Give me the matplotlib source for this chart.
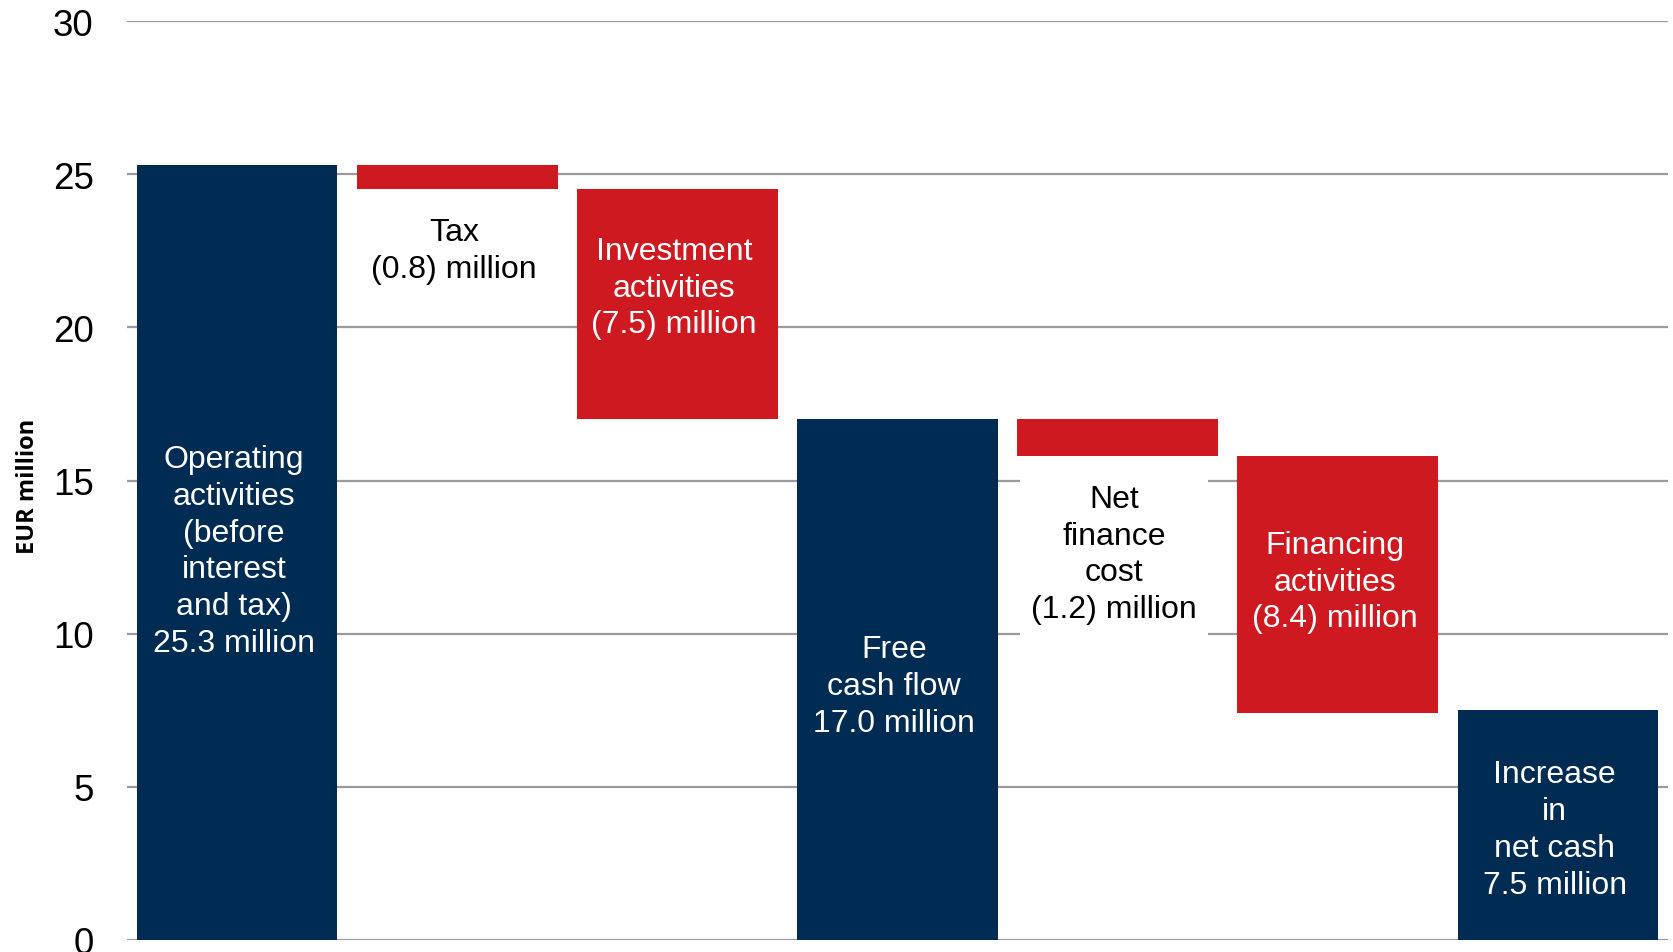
import matplotlib
matplotlib.use("Agg")
import matplotlib.pyplot as plt

# Cash flow bridge, EUR million
steps = ["Operating", "Tax", "Investment", "Free cash flow",
         "Net finance cost", "Financing", "Increase in net cash"]
amounts = [25.3, -0.8, -7.5, 17.0, -1.2, -8.4, 7.5]
is_total = [True, False, False, True, False, False, True]
labels = [
    "Operating\nactivities\n(before\ninterest\nand tax)\n25.3 million",
    "Tax\n(0.8) million",
    "Investment\nactivities\n(7.5) million",
    "Free\ncash flow\n17.0 million",
    "Net\nfinance\ncost\n(1.2) million",
    "Financing\nactivities\n(8.4) million",
    "Increase\nin\nnet cash\n7.5 million",
]
y_ticks = [0, 5, 10, 15, 20, 25, 30]

NAVY = "#002b52"
RED = "#ce1920"
GRID = "#9a9a9a"

plt.rcParams["font.family"] = ["Liberation Sans", "DejaVu Sans"]

fig = plt.figure(figsize=(16.73, 9.53), dpi=100)
ax = fig.add_axes([0.0759, 0.0126, 0.9211, 0.9643])

# work out the bottom of every bar from the running level
level = 0.0
bottoms, heights, colors = [], [], []
for amt, total in zip(amounts, is_total):
    if total:
        bottoms.append(0)
        heights.append(amt)
        colors.append(NAVY)
        level = amt
    else:
        bottoms.append(level + amt)
        heights.append(-amt)
        colors.append(RED)
        level = level + amt

x = list(range(len(steps)))
ax.bar(x, heights, bottom=bottoms, width=0.912, color=colors, zorder=2)

# label placement (y in data units)
label_y = [12.7, 22.5, 21.3, 8.3, 12.6, 11.7, 3.6]
for i, txt in enumerate(labels):
    inside = is_total[i] or heights[i] > 3
    kw = {}
    if i == 4:
        kw["bbox"] = dict(boxstyle="square,pad=0.35", fc="white", ec="none")
    ax.text(x[i] - 0.015, label_y[i], txt, ha="center", va="center",
            color="white" if inside else "black", fontsize=23,
            linespacing=1.3, zorder=3, **kw)

ax.set_xlim(-0.5, 6.5)
ax.set_ylim(0, 30)
ax.set_yticks(y_ticks)
ax.set_xticks([])
ax.tick_params(axis="y", length=0, pad=24, labelsize=26.5)
for s in ax.spines.values():
    s.set_visible(False)
ax.yaxis.grid(True, color=GRID, linewidth=1.6, zorder=0)
ax.set_axisbelow(True)

fig.text(0.0165, 0.49, "EUR million", rotation=90, ha="center", va="center",
         fontsize=17, fontweight="bold", family=["Open Sans", "DejaVu Sans"])

fig.savefig("out.png", dpi=100)
